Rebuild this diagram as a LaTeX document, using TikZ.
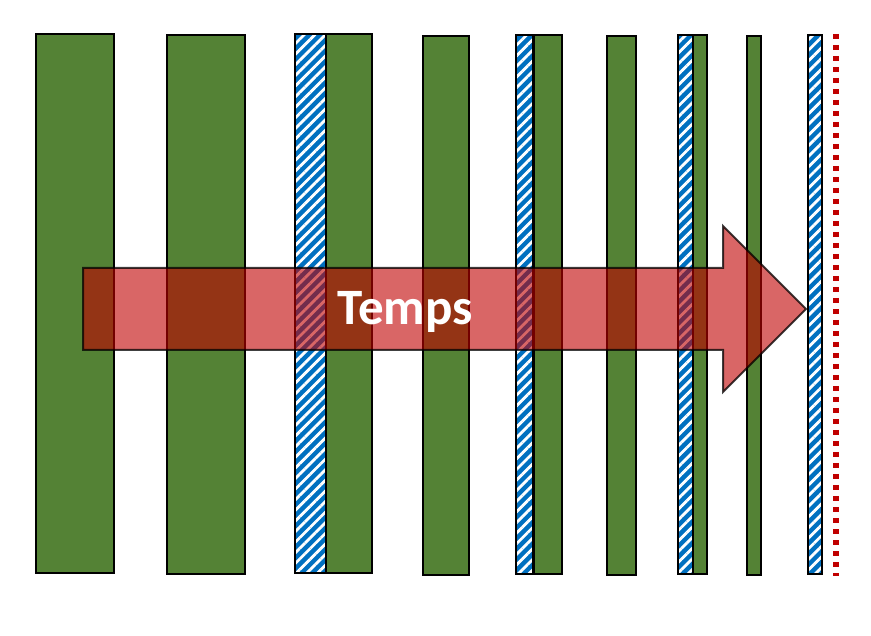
\documentclass[tikz,border=0pt]{standalone}
\usepackage{fontspec}
\setmainfont{Carlito}
\usetikzlibrary{patterns.meta}
\definecolor{bargreen}{HTML}{548235}
\definecolor{hatchblue}{HTML}{0070C0}
\definecolor{darkred}{HTML}{C00000}
\tikzset{
  greenbar/.style={fill=bargreen, draw=black, line width=2.3pt},
  hatchbar/.style={draw=black, line width=2.3pt,
    preaction={fill=hatchblue},
    preaction={pattern={Lines[angle=45,distance=7.5pt,line width=2.8pt]}, pattern color=white}},
  endline/.style={draw=darkred, line width=5.5pt, dash pattern=on 5pt off 6pt},
  timearrow/.style={fill=darkred, fill opacity=0.6, draw=black, draw opacity=0.75, line width=2pt, line join=miter},
  arrowtext/.style={text=white, font=\bfseries\fontsize{51}{60}\selectfont, inner sep=0pt}
}
\begin{document}
\begin{tikzpicture}[x=1pt,y=-1pt]
\useasboundingbox (0,0) rectangle (871,636);
% bars
\path[greenbar] (36,34) rectangle (114,573);
\path[greenbar] (167,35) rectangle (245,574);
\path[greenbar] (326,34) rectangle (372,573);
\path[hatchbar] (295,34) rectangle (326,573);
\path[greenbar] (423,36) rectangle (469,575);
\path[greenbar] (533.5,35) rectangle (562,574);
\path[hatchbar] (516,35) rectangle (533.5,574);
\path[greenbar] (607,36) rectangle (636,575);
\path[greenbar] (693,35) rectangle (707,574);
\path[hatchbar] (678,35) rectangle (693,574);
\path[greenbar] (747,36) rectangle (761,575);
\path[hatchbar] (808,35) rectangle (822,574);
% dotted end line
\coordinate (lt) at (836,34);
\coordinate (lb) at (836,576);
\draw[endline] (lt) -- (lb);
% arrow
\path[timearrow] (83,268) -- (723,268) -- (723,226) -- (806,309) -- (723,392) -- (723,350) -- (83,350) -- cycle;
\node[arrowtext, anchor=base] (temps) at (405,325) {Temps};
\end{tikzpicture}
\end{document}
